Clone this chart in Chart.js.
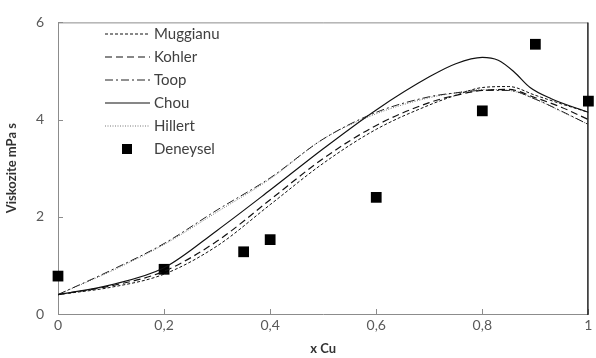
<!DOCTYPE html>
<html>
<head>
<meta charset="utf-8">
<script src="https://cdn.jsdelivr.net/npm/chart.js@4.4.1/dist/chart.umd.min.js"></script>
<style>
  html, body { margin: 0; padding: 0; background: #fff; }
  #wrap { width: 596px; height: 358px; }
</style>
</head>
<body>
<div id="wrap"><canvas id="chart" width="596" height="358"></canvas></div>
<script>
const xCu = [0, 0.1, 0.2, 0.3, 0.4, 0.5, 0.6, 0.7, 0.75, 0.8, 0.85, 0.9, 0.95, 1.0];
const muggianu = [0.4, 0.55, 0.82, 1.4, 2.25, 3.1, 3.8, 4.3, 4.5, 4.66, 4.68, 4.5, 4.32, 4.15];
const kohler = [0.4, 0.58, 0.88, 1.5, 2.35, 3.2, 3.88, 4.35, 4.5, 4.6, 4.62, 4.45, 4.25, 4.0];
const toop = [0.4, 0.9, 1.45, 2.14, 2.8, 3.6, 4.15, 4.47, 4.55, 4.6, 4.6, 4.42, 4.17, 3.9];
const hillert = [0.4, 0.88, 1.43, 2.1, 2.78, 3.6, 4.12, 4.45, 4.55, 4.62, 4.6, 4.42, 4.16, 3.9];

const chouX = [0, 0.1, 0.2, 0.3, 0.4, 0.5, 0.6, 0.7, 0.75, 0.8, 0.83, 0.86, 0.89, 0.93, 1.0];
const chou = [0.4, 0.6, 0.95, 1.72, 2.55, 3.4, 4.2, 4.88, 5.15, 5.28, 5.22, 4.98, 4.66, 4.43, 4.15];

const expX = [0, 0.2, 0.35, 0.4, 0.6, 0.8, 0.9, 1.0];
const expY = [0.78, 0.92, 1.28, 1.53, 2.4, 4.18, 5.55, 4.38];

const xTicks = [0, 0.2, 0.4, 0.6, 0.8, 1];
const yTicks = [0, 2, 4, 6];

const FONT = "Lato, 'Open Sans', sans-serif";

function pts(xs, ys) {
  return xs.map((x, i) => ({ x: x, y: ys[i] }));
}

function lineSet(label, xs, ys, dash, color, width) {
  return {
    label: label,
    data: pts(xs, ys),
    borderColor: color,
    borderWidth: width,
    borderDash: dash,
    pointRadius: 0,
    fill: false,
    cubicInterpolationMode: 'monotone'
  };
}

// legend drawn inside the plot area, top left
const insideLegend = {
  id: 'insideLegend',
  afterDraw(chart) {
    const ctx = chart.ctx;
    const x0 = 105, x1 = 150, tx = 154;
    let y = 34;
    ctx.save();
    ctx.font = "15px " + FONT;
    ctx.textBaseline = 'middle';
    chart.data.datasets.forEach(ds => {
      if (ds.showLine === false) {
        ctx.fillStyle = '#000';
        ctx.fillRect(122, y - 5, 10, 10);
      } else {
        ctx.strokeStyle = ds.borderColor;
        ctx.lineWidth = ds.borderWidth;
        ctx.setLineDash(ds.borderDash || []);
        ctx.beginPath();
        ctx.moveTo(x0, y);
        ctx.lineTo(x1, y);
        ctx.stroke();
        ctx.setLineDash([]);
      }
      ctx.fillStyle = '#404040';
      ctx.fillText(ds.label, tx, y);
      y += 23;
    });
    ctx.restore();
  }
};

// plot box and small inward tick marks
const frameTicks = {
  id: 'frameTicks',
  beforeDatasetsDraw(chart) {
    const { ctx, chartArea: a, scales } = chart;
    ctx.save();
    ctx.strokeStyle = '#8c8c8c';
    ctx.lineWidth = 1;
    ctx.beginPath();
    ctx.moveTo(a.left + 0.5, a.top + 0.5);
    ctx.lineTo(a.right - 0.5, a.top + 0.5);
    ctx.moveTo(a.left + 0.5, a.top);
    ctx.lineTo(a.left + 0.5, a.bottom + 0.5);
    ctx.lineTo(a.right, a.bottom + 0.5);
    xTicks.forEach(v => {
      const px = Math.round(scales.x.getPixelForValue(v)) + 0.5;
      ctx.moveTo(px, a.bottom);
      ctx.lineTo(px, a.bottom - 5);
    });
    yTicks.forEach(v => {
      const py = Math.round(scales.y.getPixelForValue(v)) + 0.5;
      ctx.moveTo(a.left, py);
      ctx.lineTo(a.left + 5, py);
    });
    ctx.stroke();
    ctx.strokeStyle = '#222';
    ctx.lineWidth = 1.5;
    ctx.beginPath();
    ctx.moveTo(a.right - 0.5, a.top);
    ctx.lineTo(a.right - 0.5, a.bottom + 1);
    ctx.stroke();
    ctx.restore();
  }
};

new Chart(document.getElementById('chart'), {
  type: 'line',
  data: {
    datasets: [
      lineSet('Muggianu', xCu, muggianu, [3, 2], '#111', 1),
      lineSet('Kohler', xCu, kohler, [7, 4], '#111', 1.2),
      lineSet('Toop', xCu, toop, [8, 3, 2, 3], '#222', 1),
      lineSet('Chou', chouX, chou, [], '#111', 1.2),
      lineSet('Hillert', xCu, hillert, [1, 1.5], '#777', 1),
      {
        label: 'Deneysel',
        data: pts(expX, expY),
        showLine: false,
        pointStyle: 'rect',
        pointRadius: 7.6,
        pointBackgroundColor: '#000',
        pointBorderColor: '#000',
        pointBorderWidth: 0,
        clip: false
      }
    ]
  },
  options: {
    responsive: false,
    animation: false,
    layout: { padding: { top: 11, right: 2, left: 0, bottom: 0 } },
    plugins: { legend: { display: false }, tooltip: { enabled: false } },
    scales: {
      x: {
        type: 'linear',
        min: 0,
        max: 1,
        afterBuildTicks: s => { s.ticks = xTicks.map(v => ({ value: v })); },
        afterFit: s => { s.height = 44; },
        grid: { display: false, drawTicks: false },
        border: { display: false },
        ticks: {
          padding: 3,
          color: '#595959',
          font: { family: FONT, size: 14 },
          maxRotation: 0,
          callback: v => String(v).replace('.', ',')
        },
        title: {
          display: true,
          text: 'x Cu',
          color: '#333',
          font: { family: FONT, size: 13, weight: 'bold' },
          padding: { top: 0, bottom: 1 }
        }
      },
      y: {
        type: 'linear',
        min: 0,
        max: 6,
        afterBuildTicks: s => { s.ticks = yTicks.map(v => ({ value: v })); },
        afterFit: s => { s.width = 58; },
        grid: { display: false, drawTicks: false },
        border: { display: false },
        ticks: {
          padding: 14,
          color: '#595959',
          font: { family: FONT, size: 14 }
        },
        title: {
          display: true,
          text: 'Viskozite mPa s',
          color: '#333',
          font: { family: FONT, size: 13, weight: 'bold' },
          padding: { top: 4, bottom: 0 }
        }
      }
    }
  },
  plugins: [frameTicks, insideLegend]
});
</script>
</body>
</html>
